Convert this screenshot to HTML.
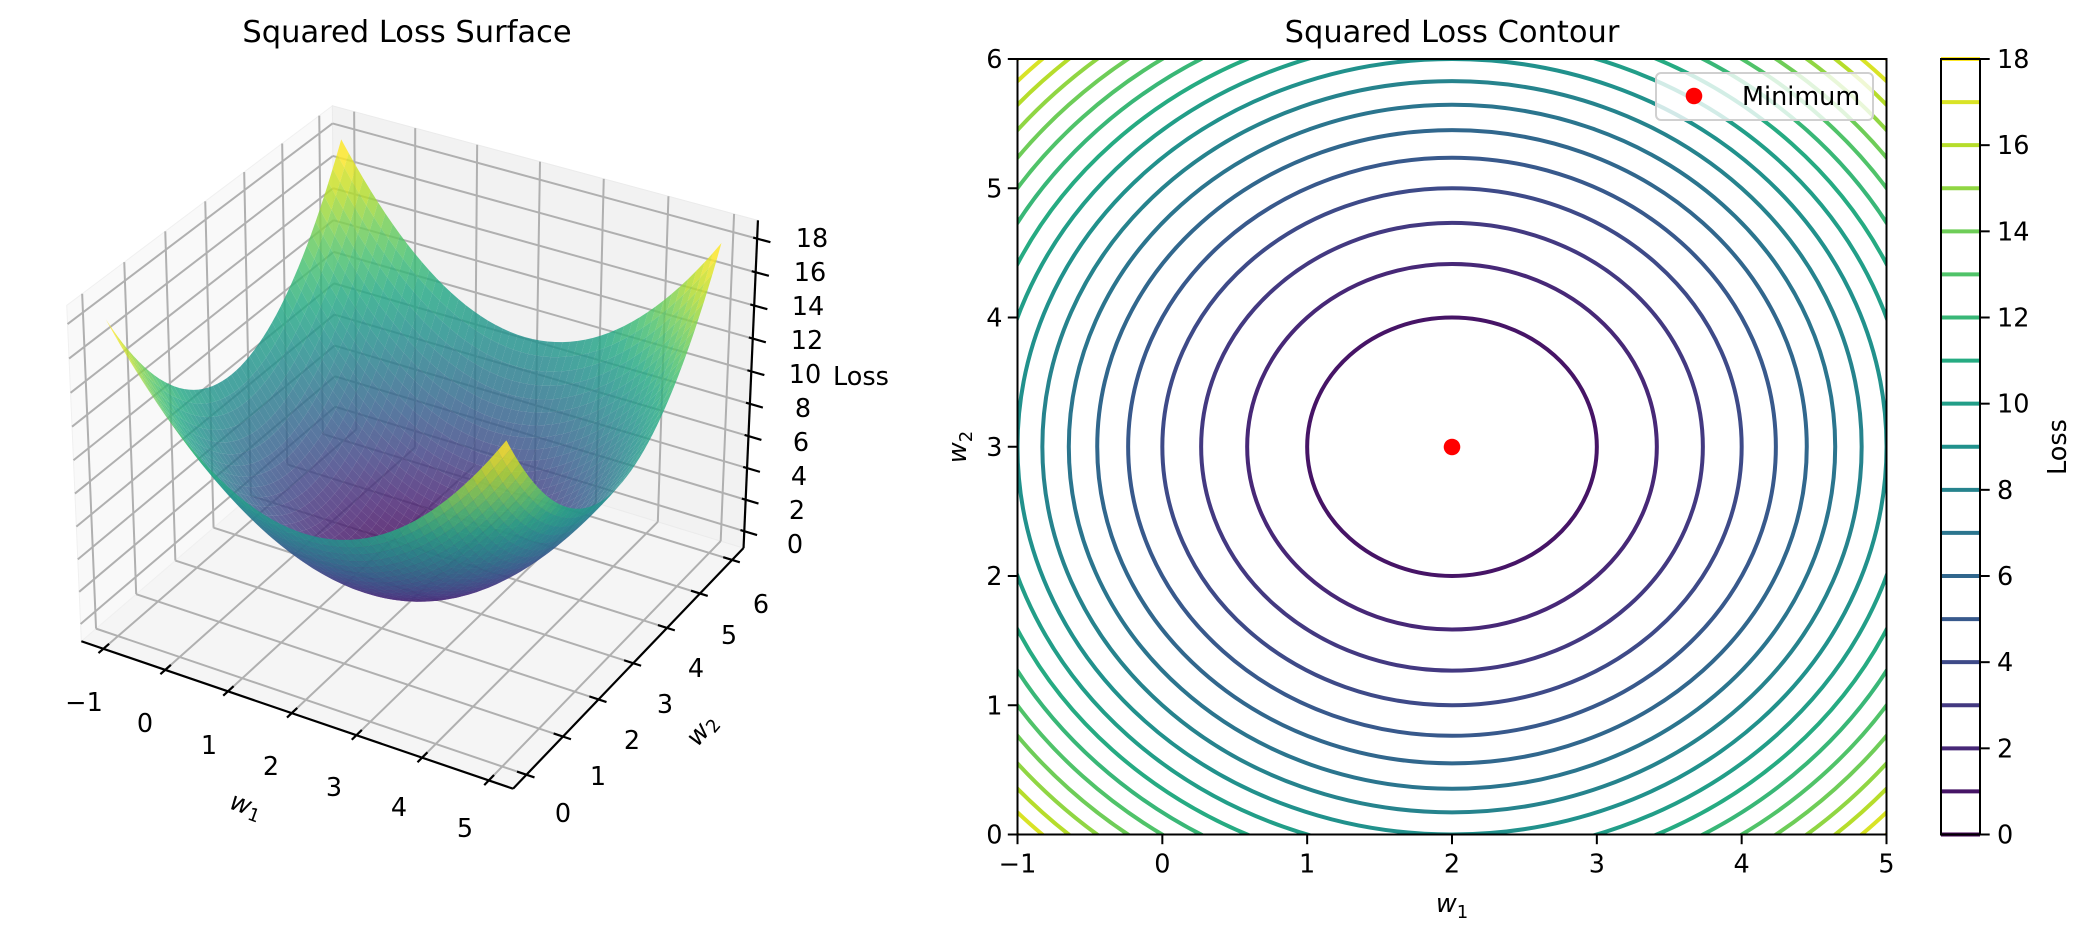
<!DOCTYPE html>
<html><head><meta charset="utf-8"><style>
html,body{margin:0;padding:0;background:#fff;width:2088px;height:936px;overflow:hidden;position:relative}
svg{display:block;position:absolute;left:0;top:0}
text{font-family:"DejaVu Sans","Liberation Sans",sans-serif;fill:#000}
</style></head><body>
<svg id="s" xmlns="http://www.w3.org/2000/svg" width="2088" height="936" viewBox="0 0 2088 936">
<g id="g3d"></g>
<text x="407" y="42" font-size="30.5" text-anchor="middle">Squared Loss Surface</text>
<g font-size="25.5" text-anchor="middle" dominant-baseline="central">
<text x="84" y="703">−1</text><text x="145" y="724">0</text><text x="209" y="746">1</text><text x="271" y="767">2</text><text x="334" y="788">3</text><text x="399" y="808">4</text><text x="465" y="829">5</text>
<text x="563" y="814">0</text><text x="598" y="777">1</text><text x="632" y="741">2</text><text x="665" y="705">3</text><text x="696" y="669">4</text><text x="729" y="636">5</text><text x="761" y="605">6</text>
<text x="795" y="545">0</text><text x="797" y="511">2</text><text x="799" y="477">4</text><text x="801" y="443">6</text><text x="803" y="409">8</text><text x="805" y="375">10</text><text x="807" y="341">12</text><text x="808" y="307">14</text><text x="810" y="273">16</text><text x="812" y="239">18</text>
</g>
<text x="833" y="385" font-size="25.5">Loss</text>
<text transform="translate(246,806) rotate(20)" font-size="25.5" text-anchor="middle" dominant-baseline="central"><tspan font-style="italic">w</tspan><tspan font-size="18" dy="6">1</tspan></text>
<text transform="translate(702,730) rotate(-50)" font-size="25.5" text-anchor="middle" dominant-baseline="central"><tspan font-style="italic">w</tspan><tspan font-size="18" dy="6">2</tspan></text>

<defs><clipPath id="cp"><rect x="1017.5" y="59" width="869" height="775.5"/></clipPath></defs>
<g id="gc" clip-path="url(#cp)" fill="none" stroke-width="4"></g>
<rect x="1017.5" y="59" width="869" height="775.5" fill="none" stroke="#000" stroke-width="2"/>
<circle cx="1452" cy="447" r="8.3" fill="#ff0000"/>
<g id="gct" stroke="#000" stroke-width="2"></g>
<text x="1452" y="42" font-size="30.5" text-anchor="middle">Squared Loss Contour</text>
<g font-size="25.5" text-anchor="middle" id="cxl"></g>
<g font-size="25.5" text-anchor="end" id="cyl"></g>
<text x="1452" y="912" font-size="25.5" text-anchor="middle"><tspan font-style="italic">w</tspan><tspan font-size="18" dy="6">1</tspan></text>
<text transform="translate(966,447) rotate(-90)" font-size="25.5" text-anchor="middle"><tspan font-style="italic">w</tspan><tspan font-size="18" dy="6">2</tspan></text>
<rect x="1656" y="73" width="217" height="47" rx="5" fill="#fff" fill-opacity="0.8" stroke="#d0d0d0" stroke-width="2"/>
<circle cx="1694" cy="96" r="8.3" fill="#ff0000"/>
<text x="1742" y="105" font-size="25.5">Minimum</text>
<g id="gcb"></g>
<rect x="1941" y="59" width="39" height="775.5" fill="none" stroke="#000" stroke-width="2"/>
<g font-size="25.5" id="cbl"></g>
<text transform="translate(2066,447) rotate(-90)" font-size="25.5" text-anchor="middle">Loss</text>
</svg>
<script>
(function(){
const NS="http://www.w3.org/2000/svg";
function el(p,t,a){const e=document.createElementNS(NS,t);for(const k in a)e.setAttribute(k,a[k]);p.appendChild(e);return e;}
const VS=[[0,68,1,84],[0.1,72,36,117],[0.2,65,68,135],[0.3,53,95,141],[0.4,42,120,142],[0.5,33,145,140],[0.6,34,168,132],[0.7,68,191,112],[0.8,122,209,81],[0.9,189,223,38],[1,253,231,37]];
function vir(t){t=Math.max(0,Math.min(1,t));for(let i=0;i<VS.length-1;i++){const a=VS[i],b=VS[i+1];if(t<=b[0]){const f=(t-a[0])/(b[0]-a[0]);return "rgb("+[1,2,3].map(j=>Math.round(a[j]+(b[j]-a[j])*f)).join(",")+")";}}return "rgb(253,231,37)";}
const L=1017.5,R=1886.5,T=59,B=834.5,px=(R-L)/6,py=(B-T)/6;
const cx=L+3*px, cy=B-3*py;
const gc=document.getElementById("gc");
for(let k=1;k<=18;k++){el(gc,"ellipse",{cx:cx,cy:cy,rx:Math.sqrt(k)*px,ry:Math.sqrt(k)*py,stroke:vir(k/18)});}
const gct=document.getElementById("gct"),cxl=document.getElementById("cxl"),cyl=document.getElementById("cyl");
for(let i=0;i<=6;i++){const x=L+i*px;el(gct,"line",{x1:x,y1:B,x2:x,y2:B+9.7});
 const t=el(cxl,"text",{x:x,y:B+38});t.textContent=(i-1<0?"−1":String(i-1));
 const y=B-i*py;el(gct,"line",{x1:L,y1:y,x2:L-9.7,y2:y});
 const u=el(cyl,"text",{x:L-15,y:y+9});u.textContent=String(i);}
const gcb=document.getElementById("gcb"),cbl=document.getElementById("cbl");
for(let k=0;k<=18;k++){const y=B-k/18*(B-T);el(gcb,"line",{x1:1941,x2:1980,y1:y,y2:y,stroke:vir(k/18),"stroke-width":4});
 if(k%2==0){el(gcb,"line",{x1:1980,x2:1989.7,y1:y,y2:y,stroke:"#000","stroke-width":2});const t=el(cbl,"text",{x:1997,y:y+9});t.textContent=String(k);}}
const P=0.06;
const xl=[-1-6*P,5+6*P], yl=[-6*P,6+6*P], zl=[-18*P,18+18*P];
const sc=1.8294640721620434/Math.hypot(4,4,3), asp=[4*sc,4*sc,3*sc];
const Rc=[asp[0]/2,asp[1]/2,asp[2]/2];
const ev=30*Math.PI/180, az=-60*Math.PI/180;
const ps=[Math.cos(ev)*Math.cos(az),Math.cos(ev)*Math.sin(az),Math.sin(ev)];
const eye=[Rc[0]+10*ps[0],Rc[1]+10*ps[1],Rc[2]+10*ps[2]];
const w=ps; let u=[-w[1],w[0],0];const nu=Math.hypot(u[0],u[1]);u=[u[0]/nu,u[1]/nu,0];
const v=[w[1]*u[2]-w[2]*u[1],w[2]*u[0]-w[0]*u[2],w[0]*u[1]-w[1]*u[0]];
function raw(x,y,z){const p=[(x-xl[0])/(xl[1]-xl[0])*asp[0],(y-yl[0])/(yl[1]-yl[0])*asp[1],(z-zl[0])/(zl[1]-zl[0])*asp[2]];
 const r=[p[0]-eye[0],p[1]-eye[1],p[2]-eye[2]];const c=r[0]*w[0]+r[1]*w[1]+r[2]*w[2];
 return [(r[0]*u[0]+r[1]*u[1]+r[2]*u[2])/-c,(r[0]*v[0]+r[1]*v[1]+r[2]*v[2])/-c,-c];}
const LM=[[[-1,6,18],[341,144]],[[-1,0,18],[110,318]],[[5,6,18],[716,241]],[[5,0,18],[505,430]],
[[-1,yl[0],zl[0]],[102,653]],[[5,yl[0],zl[0]],[482,777]],[[2,yl[0],zl[0]],[289,714]],
[[xl[1],0,zl[0]],[532,771]],[[xl[1],6,zl[0]],[732,563]],[[xl[1],3,zl[0]],[638,663]],
[[xl[1],yl[1],0],[746,543]],[[xl[1],yl[1],18],[759,235]]];
function solve(A,b){
 const M=A.map((r,i)=>r.concat([b[i]]));for(let i=0;i<3;i++){let m=i;for(let j=i+1;j<3;j++)if(Math.abs(M[j][i])>Math.abs(M[m][i]))m=j;[M[i],M[m]]=[M[m],M[i]];
 for(let j=0;j<3;j++)if(j!=i){const f=M[j][i]/M[i][i];for(let k=i;k<4;k++)M[j][k]-=f*M[i][k];}}return [M[0][3]/M[0][0],M[1][3]/M[1][1],M[2][3]/M[2][2]];}
const ATA=[[0,0,0],[0,0,0],[0,0,0]],bx=[0,0,0],by=[0,0,0];
LM.forEach(([d,s])=>{const r=raw(d[0],d[1],d[2]);const f=[r[0],r[1],1];for(let i=0;i<3;i++){for(let j=0;j<3;j++)ATA[i][j]+=f[i]*f[j];bx[i]+=f[i]*s[0];by[i]+=f[i]*s[1];}});
const cX=solve(ATA,bx),cY=solve(ATA,by);
function pr(x,y,z){const r=raw(x,y,z);return [cX[0]*r[0]+cX[1]*r[1]+cX[2],cY[0]*r[0]+cY[1]*r[1]+cY[2],r[2]];}
const g=document.getElementById("g3d");
function poly(pts,attrs){const s=pts.map(p=>{const q=pr(p[0],p[1],p[2]);return q[0].toFixed(2)+","+q[1].toFixed(2);}).join(" ");attrs.points=s;return el(g,"polygon",attrs);}
function line(a,b,attrs){const p=pr(a[0],a[1],a[2]),q=pr(b[0],b[1],b[2]);attrs.x1=p[0];attrs.y1=p[1];attrs.x2=q[0];attrs.y2=q[1];return el(g,"line",attrs);}
const [x0,x1]=xl,[y0,y1]=yl,[z0,z1]=zl;
poly([[x0,y0,z0],[x1,y0,z0],[x1,y1,z0],[x0,y1,z0]],{fill:"#f5f5f5",stroke:"#f0f0f0","stroke-width":1});
poly([[x0,y0,z0],[x0,y1,z0],[x0,y1,z1],[x0,y0,z1]],{fill:"#f9f9f9",stroke:"#f0f0f0","stroke-width":1});
poly([[x0,y1,z0],[x1,y1,z0],[x1,y1,z1],[x0,y1,z1]],{fill:"#f2f2f2",stroke:"#ebebeb","stroke-width":1});
const GA={stroke:"#b0b0b0","stroke-width":2};
for(let k=-1;k<=5;k++){line([k,y0,z0],[k,y1,z0],{...GA});line([k,y1,z0],[k,y1,z1],{...GA});}
for(let k=0;k<=6;k++){line([x0,k,z0],[x1,k,z0],{...GA});line([x0,k,z0],[x0,k,z1],{...GA});}
for(let k=0;k<=18;k+=2){line([x0,y0,k],[x0,y1,k],{...GA});line([x0,y1,k],[x1,y1,k],{...GA});}
const AA={stroke:"#000","stroke-width":2.2};
line([x0,y0,z0],[x1,y0,z0],{...AA});line([x1,y0,z0],[x1,y1,z0],{...AA});line([x1,y1,z0],[x1,y1,z1],{...AA});
for(let k=-1;k<=5;k++)line([k,y0-0.12,z0],[k,y0+0.14,z0],{...AA});
for(let k=0;k<=6;k++)line([x1-0.14,k,z0],[x1+0.12,k,z0],{...AA});
for(let k=0;k<=18;k+=2)line([x1-0.06,y1,k],[x1+0.2,y1,k],{...AA});
const N=50,f=(x,y)=>(x-2)*(x-2)+(y-3)*(y-3);const faces=[];let zmn=1e9,zmx=-1e9;
for(let i=0;i<N;i++)for(let j=0;j<N;j++){const xa=-1+6*i/N,xb=-1+6*(i+1)/N,ya=6*j/N,yb=6*(j+1)/N;
 const pts=[[xa,ya,f(xa,ya)],[xb,ya,f(xb,ya)],[xb,yb,f(xb,yb)],[xa,yb,f(xa,yb)]];
 const za=(pts[0][2]+pts[1][2]+pts[2][2]+pts[3][2])/4;const pp=pts.map(p=>pr(p[0],p[1],p[2]));
 const d=(pp[0][2]+pp[1][2]+pp[2][2]+pp[3][2])/4;faces.push([pp,za,d]);zmn=Math.min(zmn,za);zmx=Math.max(zmx,za);}
faces.sort((a,b)=>b[2]-a[2]);
const sg=el(g,"g",{"fill-opacity":"0.82"});
faces.forEach(([pp,za])=>{el(sg,"polygon",{points:pp.map(q=>q[0].toFixed(2)+","+q[1].toFixed(2)).join(" "),fill:vir((za-zmn)/(zmx-zmn))});});
})();
</script>
</body></html>
